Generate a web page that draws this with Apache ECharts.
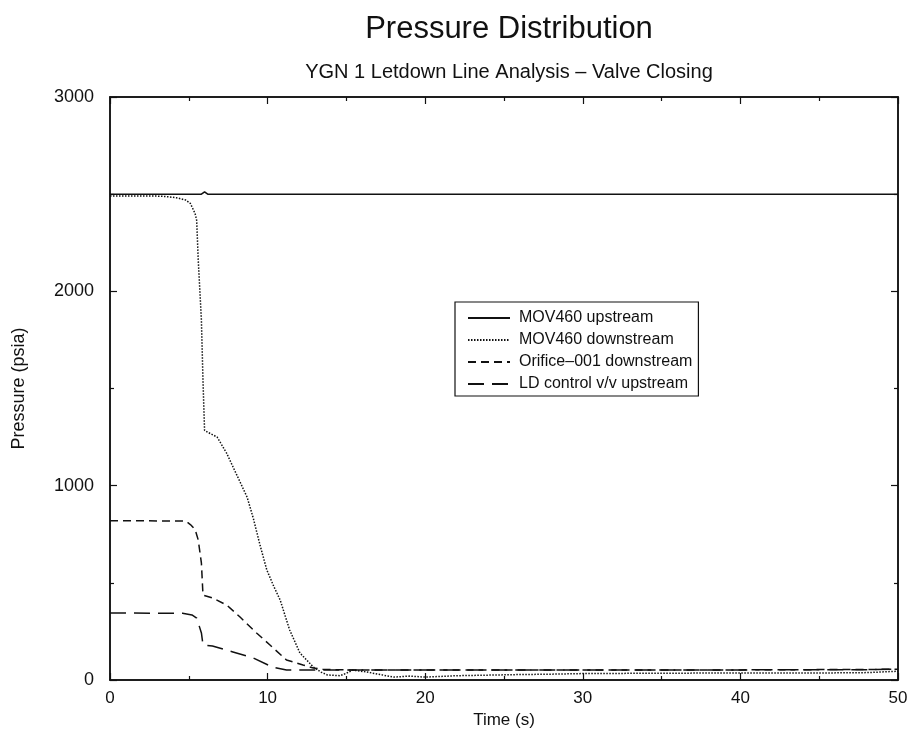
<!DOCTYPE html>
<html>
<head>
<meta charset="utf-8">
<script src="https://cdn.jsdelivr.net/npm/echarts@6/dist/echarts.min.js"></script>
<style>
html,body{margin:0;padding:0;background:#fff;}
#chart{width:913px;height:740px;}
</style>
</head>
<body>
<div id="chart"></div>
<script>
var titleText = 'Pressure Distribution';
var subtitleText = 'YGN 1 Letdown Line Analysis \u2013 Valve Closing';
var xName = 'Time (s)';
var yName = 'Pressure (psia)';
var seriesNames = ['MOV460 upstream', 'MOV460 downstream', 'Orifice\u2013001 downstream', 'LD control v/v upstream'];

var movUpstream = [[0,2500],[5.8,2500],[6.0,2512],[6.2,2500],[50,2500]];
var movDownstream = [[0,2490],[3.0,2490],[3.5,2488],[4.2,2482],[4.8,2470],[5.1,2452],[5.4,2400],[5.5,2365],[5.6,2160],[5.8,1851],[5.9,1542],[6.0,1285],[6.2,1275],[6.8,1250],[7.4,1167],[8.05,1054],[8.7,941],[9.1,830],[9.5,700],[9.95,566],[10.4,480],[10.8,411],[11.4,257],[12.05,139],[12.9,67],[13.4,40],[13.8,26],[14.6,22],[15.0,35],[15.4,51],[16.3,41],[17,30],[18,15],[19,20],[20,15],[22,22],[24,25],[26,28],[28,30],[30,33],[35,35],[40,36],[45,36],[48,38],[50,45]];
var orificeDownstream = [[0,820],[4.8,818],[5.1,800],[5.4,775],[5.6,720],[5.8,601],[5.9,437],[6.0,428],[6.5,422],[7.4,386],[8.25,324],[9.3,242],[10.15,180],[11.2,103],[12.25,77],[12.9,62],[13.5,55],[15,52],[20,52],[30,52],[40,52],[50,55]];
var ldUpstream = [[0,345],[4.6,343],[5.2,335],[5.5,319],[5.8,242],[5.9,180],[6.5,175],[7.8,144],[9.1,113],[10.3,67],[11.2,51],[15,52],[20,52],[30,52],[40,52],[48,53],[50,56]];

var FONT = '"Liberation Sans", Arial, Helvetica, sans-serif';
var INK = '#111';

function mkSeries(name, data, type) {
  return {
    name: name, type: 'line', data: data, symbol: 'none', smooth: false,
    xAxisIndex: 0, yAxisIndex: 0, animation: false,
    lineStyle: { color: INK, width: 1.5, type: type },
    itemStyle: { color: INK }
  };
}

var baseX = {
  type: 'value', min: 0, max: 50, interval: 10,
  axisLine: { show: true, onZero: false, lineStyle: { color: INK, width: 1.5 } },
  axisTick: { show: true, inside: true, length: 7, lineStyle: { color: INK, width: 1.2 } },
  minorTick: { show: true, splitNumber: 2, length: 4, lineStyle: { color: INK, width: 1.2 } },
  splitLine: { show: false }
};
var baseY = {
  type: 'value', min: 0, max: 3000, interval: 1000,
  axisLine: { show: true, onZero: false, lineStyle: { color: INK, width: 1.5 } },
  axisTick: { show: true, inside: true, length: 7, lineStyle: { color: INK, width: 1.2 } },
  minorTick: { show: true, splitNumber: 2, length: 4, lineStyle: { color: INK, width: 1.2 } },
  splitLine: { show: false }
};

var option = {
  backgroundColor: '#fff',
  animation: false,
  title: [
    { text: titleText, left: 504, textAlign: 'center', top: 9, textStyle: { fontFamily: FONT, fontSize: 31, fontWeight: 'normal', color: INK } },
    { text: subtitleText, left: 504, textAlign: 'center', top: 57, textStyle: { fontFamily: FONT, fontSize: 20, fontWeight: 'normal', color: INK } }
  ],
  grid: { left: 110, right: 15, top: 97, bottom: 60, show: true, borderColor: INK, borderWidth: 1.5, backgroundColor: 'transparent' },
  legend: {
    show: true,
    orient: 'vertical', left: 455, top: 302,
    data: seriesNames,
    itemWidth: 42, itemHeight: 14, itemGap: 6,
    padding: [8, 6, 4, 12],
    borderColor: INK, borderWidth: 1.2,
    backgroundColor: '#fff',
    selectedMode: false,
    itemStyle: { opacity: 0 },
    textStyle: { fontFamily: FONT, fontSize: 16, color: INK, padding: [0, 0, 0, 4] }
  },
  xAxis: [
    Object.assign({}, baseX, {
      position: 'bottom', name: xName, nameLocation: 'middle', nameGap: 32,
      nameTextStyle: { fontFamily: FONT, fontSize: 17, color: INK },
      axisLabel: { show: true, fontFamily: FONT, fontSize: 17, color: INK, margin: 10 }
    }),
    Object.assign({}, baseX, { position: 'top', axisLabel: { show: false } })
  ],
  yAxis: [
    Object.assign({}, baseY, {
      position: 'left', name: yName, nameLocation: 'middle', nameGap: 82, nameRotate: 90,
      nameTextStyle: { fontFamily: FONT, fontSize: 18, color: INK },
      axisLabel: { show: true, fontFamily: FONT, fontSize: 18, color: INK, margin: 16, formatter: function (v) { return String(v); } }
    }),
    Object.assign({}, baseY, { position: 'right', axisLabel: { show: false } })
  ],
  series: [
    mkSeries(seriesNames[0], movUpstream, 'solid'),
    mkSeries(seriesNames[1], movDownstream, [1.5, 1.5]),
    mkSeries(seriesNames[2], orificeDownstream, [8, 5]),
    mkSeries(seriesNames[3], ldUpstream, [16, 8])
  ]
};

var chart = echarts.init(document.getElementById('chart'), null, { renderer: 'canvas' });
chart.setOption(option);
</script>
</body>
</html>
